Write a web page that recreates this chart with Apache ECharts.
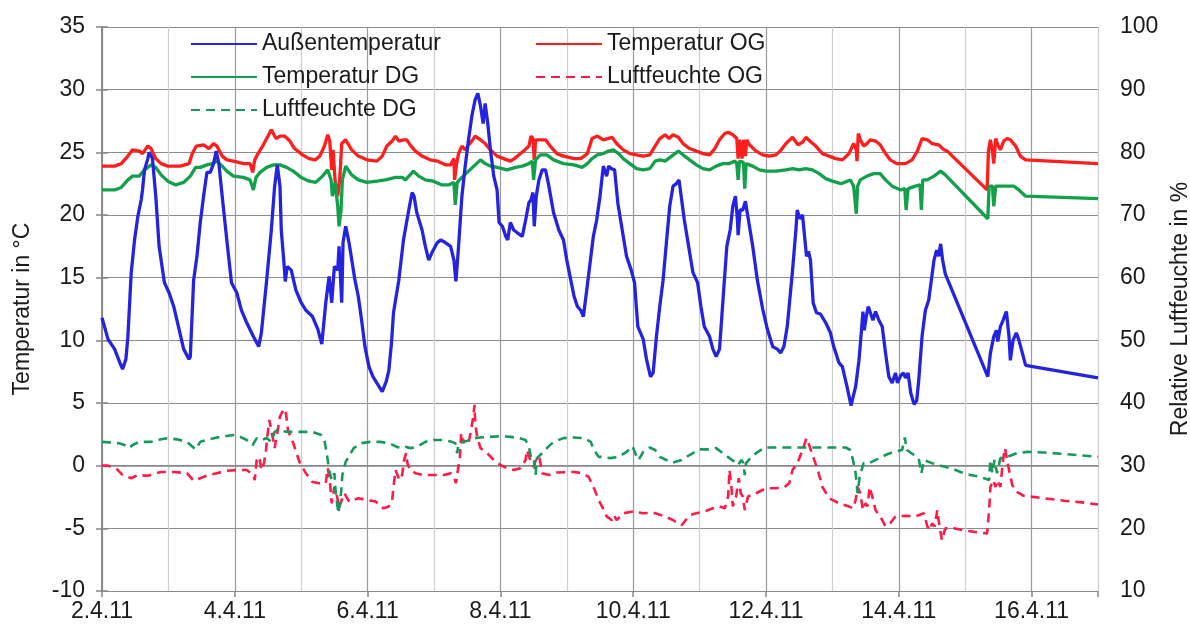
<!DOCTYPE html>
<html>
<head>
<meta charset="utf-8">
<script src="https://cdn.jsdelivr.net/npm/echarts@6/dist/echarts.min.js"></script>
<style>html,body{margin:0;padding:0;background:#fff}#c{width:1190px;height:628px}</style>
</head>
<body>
<div id="c"></div>
<script>
// x values: days after 2.4.11 00:00
const aussenDays = [0,0.09,0.19,0.27,0.31,0.36,0.39,0.44,0.49,0.54,0.59,0.61,0.64,0.69,0.71,0.76,0.81,0.86,0.94,1.01,1.08,1.16,1.23,1.31,1.33,1.38,1.43,1.48,1.53,1.58,1.63,1.68,1.72,1.76,1.81,1.88,1.95,2.03,2.10,2.18,2.28,2.36,2.40,2.48,2.55,2.60,2.64,2.68,2.70,2.74,2.76,2.79,2.85,2.92,3.00,3.07,3.17,3.25,3.31,3.37,3.42,3.46,3.50,3.55,3.57,3.61,3.63,3.67,3.72,3.81,3.86,3.91,3.96,4.02,4.08,4.15,4.22,4.28,4.32,4.36,4.39,4.47,4.54,4.62,4.67,4.70,4.74,4.82,4.87,4.92,4.97,5.05,5.10,5.17,5.25,5.30,5.33,5.37,5.42,5.47,5.52,5.57,5.62,5.66,5.70,5.74,5.77,5.81,5.85,5.90,5.95,5.98,6.03,6.08,6.11,6.15,6.20,6.25,6.33,6.38,6.43,6.46,6.49,6.51,6.54,6.58,6.63,6.68,6.73,6.80,6.88,6.95,7.00,7.06,7.11,7.16,7.21,7.25,7.30,7.40,7.45,7.50,7.55,7.60,7.63,7.67,7.72,7.77,7.85,7.90,7.97,8.02,8.07,8.15,8.20,8.26,8.30,8.35,8.40,8.45,8.50,8.55,8.60,8.65,8.69,8.72,8.77,8.85,8.90,8.97,9.02,9.07,9.15,9.20,9.25,9.30,9.36,9.41,9.46,9.50,9.54,9.57,9.58,9.61,9.65,9.69,9.72,9.80,9.87,9.95,10.02,10.10,10.17,10.22,10.27,10.32,10.40,10.45,10.47,10.51,10.55,10.58,10.61,10.64,10.67,10.71,10.76,10.82,10.90,10.97,11.02,11.10,11.15,11.22,11.28,11.35,11.40,11.43,11.46,11.48,11.51,11.54,11.57,11.61,11.65,11.70,11.75,11.80,11.85,11.90,11.95,11.98,12.03,12.07,12.10,12.14,12.18,12.23,12.27,12.30,12.35,12.40,12.45,12.49,12.53,12.57,12.60,12.63,12.66,12.70,13.34,13.38,13.43,13.47,13.49,13.53,13.57,13.62,13.66,13.68,13.72,13.77,13.81,13.91,15.00];
const aussenTemp = [11.8,10.1,9.3,8.2,7.7,8.5,10.3,15.4,18.0,19.9,21.2,22.0,23.6,24.5,25.0,24.5,21.5,17.5,14.6,13.8,12.7,10.9,9.3,8.5,8.7,14.8,16.7,19.4,21.5,23.4,23.4,24.1,25.1,24.1,21.5,18.0,14.6,13.8,12.4,11.4,10.3,9.5,10.6,14.8,18.8,22.3,24.0,22.3,18.8,16.2,14.7,15.9,15.6,14.0,13.0,12.4,11.9,10.9,9.7,13.0,15.1,13.0,15.9,15.6,17.5,13.0,17.8,19.1,17.8,14.8,13.5,11.6,9.5,7.9,7.1,6.5,5.9,6.7,7.6,9.8,12.2,14.8,18.0,20.4,21.8,21.5,20.2,18.8,17.5,16.4,17.0,17.8,18.0,17.8,17.5,16.4,14.7,17.5,21.5,23.9,26.0,27.9,29.2,29.7,28.7,27.3,28.9,27.3,25.2,23.1,22.0,19.4,19.1,18.3,18.0,19.4,18.8,18.6,18.3,19.6,21.0,21.2,21.8,19.1,21.5,22.8,23.6,23.6,22.3,20.2,18.8,18.0,16.4,14.8,13.5,12.7,12.4,11.9,14.0,18.3,19.6,21.5,23.9,23.1,23.9,23.7,23.6,20.9,18.3,16.7,15.6,14.6,11.1,10.1,8.5,7.1,7.4,10.3,12.7,14.8,17.8,20.7,22.3,22.5,22.8,22.9,19.6,17.0,15.4,14.6,12.7,11.1,10.3,9.3,8.7,9.3,13.8,17.5,18.8,20.7,21.5,19.6,18.4,20.4,20.4,21.1,20.1,17.5,14.8,12.5,10.9,9.5,9.3,9.0,9.5,11.1,15.6,18.8,20.4,19.7,20.0,20.0,16.7,17.1,16.4,13.0,12.2,12.1,11.4,10.6,9.5,8.2,7.9,6.3,4.8,6.3,8.4,10.3,12.3,10.8,11.9,12.7,12.8,11.6,12.3,11.6,11.1,9.0,7.1,6.6,7.4,6.6,7.2,7.4,7.0,7.4,5.8,4.9,5.2,6.8,10.3,12.4,13.2,14.8,16.4,17.2,16.7,17.7,16.4,15.3,7.1,9.0,10.3,10.8,9.9,11.1,11.6,12.3,10.3,8.4,10.0,10.6,10.0,8.0,7.0];

const ogDays = [0,0.19,0.29,0.39,0.46,0.56,0.61,0.69,0.74,0.81,0.89,0.99,1.18,1.31,1.36,1.42,1.53,1.61,1.68,1.73,1.81,1.88,1.98,2.13,2.23,2.27,2.30,2.35,2.43,2.50,2.55,2.62,2.68,2.75,2.83,2.90,3.02,3.12,3.21,3.28,3.35,3.40,3.43,3.46,3.48,3.51,3.55,3.58,3.61,3.67,3.76,3.86,3.99,4.14,4.22,4.29,4.37,4.42,4.47,4.54,4.59,4.64,4.72,4.82,4.94,5.05,5.17,5.25,5.30,5.31,5.34,5.37,5.42,5.47,5.52,5.57,5.62,5.70,5.77,5.85,5.95,6.05,6.15,6.21,6.28,6.35,6.43,6.46,6.49,6.51,6.53,6.60,6.68,6.75,6.85,6.95,7.11,7.21,7.31,7.38,7.46,7.55,7.68,7.75,7.85,7.95,8.05,8.15,8.25,8.33,8.40,8.48,8.54,8.60,8.68,8.75,8.85,8.95,9.05,9.15,9.23,9.30,9.38,9.43,9.50,9.56,9.58,9.60,9.64,9.66,9.69,9.71,9.75,9.85,9.95,10.05,10.15,10.23,10.30,10.40,10.48,10.55,10.60,10.68,10.75,10.85,10.95,11.05,11.15,11.25,11.32,11.36,11.37,11.39,11.42,11.47,11.52,11.57,11.65,11.72,11.80,11.87,11.97,12.10,12.20,12.28,12.35,12.43,12.50,12.60,12.68,12.73,13.33,13.35,13.38,13.41,13.43,13.46,13.49,13.53,13.58,13.63,13.68,13.76,13.83,13.91,15.00];
const ogTemp = [23.9,23.9,24.1,24.7,25.2,25.1,24.9,25.5,25.3,24.5,24.1,23.9,23.9,24.1,24.9,25.5,25.6,25.3,25.7,25.5,24.7,24.4,24.3,24.1,24.1,23.4,24.4,24.9,25.6,26.3,26.8,26.1,26.3,26.3,25.9,25.3,24.8,24.5,24.4,24.7,25.5,26.4,25.9,23.6,25.2,22.8,21.5,22.8,25.7,26.0,25.2,24.7,24.4,24.3,24.7,25.5,25.9,26.3,25.9,26.0,26.0,25.6,25.1,24.7,24.4,24.3,24.0,24.0,24.5,22.8,24.1,24.9,25.5,25.2,25.6,25.9,26.3,26.0,25.7,25.2,24.7,24.5,24.3,24.5,24.8,25.1,25.5,26.3,26.1,24.4,26.0,26.0,26.0,25.5,24.9,24.7,24.5,24.5,24.9,26.1,26.3,26.0,26.2,25.7,25.2,24.9,24.8,24.7,24.8,25.5,26.1,26.4,26.1,26.4,26.2,25.7,25.3,25.1,24.9,24.8,25.3,26.0,26.5,26.6,26.4,26.1,24.5,26.0,24.5,26.0,24.7,26.0,25.6,25.1,24.8,24.7,24.8,25.2,25.7,26.2,25.6,25.8,26.2,25.8,25.5,24.9,24.7,24.5,24.4,24.9,25.7,25.2,24.3,26.5,26.0,25.5,25.7,26.0,25.9,25.6,24.9,24.4,24.1,24.1,24.4,25.1,26.1,26.0,25.7,25.6,25.2,25.1,22.0,25.1,26.0,25.1,24.1,26.1,25.6,25.2,25.9,26.1,26.0,25.5,24.7,24.4,24.1];

const dgDays = [0,0.19,0.29,0.39,0.46,0.56,0.64,0.74,0.81,0.89,0.99,1.11,1.23,1.33,1.41,1.48,1.58,1.66,1.73,1.81,1.88,1.98,2.13,2.23,2.28,2.32,2.38,2.48,2.58,2.68,2.78,2.88,3.00,3.12,3.22,3.32,3.40,3.45,3.47,3.51,3.55,3.57,3.60,3.62,3.67,3.76,3.86,3.99,4.14,4.27,4.42,4.52,4.57,4.64,4.69,4.77,4.87,4.99,5.12,5.22,5.30,5.32,5.35,5.42,5.52,5.62,5.70,5.77,5.85,5.95,6.10,6.23,6.33,6.43,6.48,6.50,6.53,6.60,6.70,6.80,6.95,7.11,7.23,7.31,7.38,7.46,7.55,7.63,7.70,7.78,7.85,7.95,8.05,8.15,8.25,8.33,8.40,8.48,8.58,8.68,8.75,8.85,8.95,9.05,9.15,9.25,9.35,9.45,9.53,9.56,9.58,9.60,9.66,9.68,9.70,9.80,9.90,10.00,10.15,10.30,10.40,10.50,10.60,10.70,10.80,10.90,11.00,11.13,11.27,11.32,11.36,11.38,11.42,11.52,11.62,11.72,11.80,11.90,12.03,12.09,12.11,12.14,12.25,12.32,12.34,12.36,12.43,12.53,12.63,12.70,13.34,13.36,13.41,13.43,13.46,13.53,13.73,13.81,13.91,15.00];
const dgTemp = [22.0,22.0,22.2,22.8,23.1,23.1,23.6,24.0,23.8,23.2,22.7,22.4,22.6,23.1,23.8,23.8,24.0,24.1,24.3,23.9,23.5,23.1,23.0,22.8,22.0,23.0,23.4,23.8,24.0,24.0,23.8,23.5,23.0,22.7,22.6,23.1,23.6,22.8,21.5,22.6,20.7,19.1,20.4,22.8,23.9,23.2,22.8,22.6,22.7,22.8,23.0,23.0,22.8,23.2,23.5,23.1,22.8,22.7,22.4,22.4,22.6,20.8,22.6,23.0,23.5,24.0,24.4,24.1,23.9,23.8,23.6,23.8,23.9,24.1,24.3,22.8,24.4,24.8,24.8,24.4,24.1,24.0,23.8,24.1,24.5,24.8,24.9,25.1,25.2,24.9,24.5,24.1,23.7,23.6,23.7,24.3,24.4,24.3,24.7,25.1,24.8,24.4,24.0,23.7,23.6,23.9,24.1,24.1,24.3,24.1,22.8,24.3,24.2,22.1,24.1,23.9,23.6,23.5,23.5,23.6,23.7,23.6,23.7,23.6,23.3,22.9,22.7,22.5,22.8,22.3,20.1,22.3,22.8,23.1,23.3,23.3,22.8,22.3,22.0,22.1,20.4,22.1,22.3,22.4,20.4,22.8,22.8,23.1,23.5,23.2,19.7,22.3,22.3,20.7,22.3,22.3,22.3,22.0,21.5,21.3];

const rhDgDays = [0,0.24,0.34,0.41,0.46,0.56,0.74,0.84,0.99,1.13,1.28,1.41,1.48,1.58,1.73,1.81,1.98,2.08,2.18,2.27,2.33,2.40,2.48,2.55,2.60,2.65,2.78,2.98,3.17,3.30,3.35,3.40,3.42,3.46,3.50,3.52,3.56,3.60,3.62,3.67,3.72,3.79,3.91,4.04,4.19,4.32,4.44,4.52,4.57,4.64,4.74,4.87,4.99,5.15,5.27,5.32,5.35,5.37,5.45,5.55,5.62,5.70,5.85,6.00,6.15,6.28,6.38,6.43,6.46,6.50,6.53,6.55,6.63,6.70,6.80,6.95,7.11,7.26,7.36,7.41,7.48,7.53,7.65,7.78,7.90,7.99,8.03,8.08,8.15,8.25,8.33,8.40,8.50,8.60,8.73,8.85,9.00,9.13,9.25,9.35,9.45,9.53,9.58,9.60,9.63,9.66,9.68,9.70,9.78,9.85,9.98,10.20,10.60,11.00,11.20,11.27,11.31,11.35,11.38,11.41,11.47,11.55,11.67,11.80,11.92,12.05,12.09,12.12,12.23,12.30,12.34,12.38,12.50,12.63,12.78,12.93,13.08,13.23,13.36,13.38,13.41,13.44,13.48,13.53,13.63,13.78,13.93,14.19,14.44,14.69,15.00];
const rhDg = [33.8,33.6,33.3,32.8,33.3,33.8,33.8,34.1,34.4,34.2,33.8,32.6,33.8,34.1,34.5,34.6,34.9,34.6,34.1,33.3,34.4,34.1,34.4,33.8,35.4,35.7,35.4,35.4,35.4,34.9,34.1,30.9,29.3,27.7,28.8,25.6,22.4,25.6,28.5,30.6,31.5,32.8,33.6,33.8,33.8,33.6,33.0,32.8,33.0,32.8,33.0,33.8,34.1,34.1,33.8,33.6,32.0,33.6,33.8,34.1,34.4,34.5,34.6,34.7,34.6,34.4,34.1,33.0,31.4,31.4,28.5,31.2,32.0,32.8,33.8,34.4,34.5,34.4,33.8,32.5,31.4,31.4,31.2,31.4,32.2,33.1,32.0,30.9,32.2,32.9,32.5,31.4,30.9,30.5,30.9,31.7,32.6,32.6,32.8,32.0,31.2,30.6,30.1,29.8,30.9,30.4,28.5,30.4,31.4,32.0,32.9,32.9,32.9,32.9,32.9,32.5,30.9,28.8,25.6,28.2,30.4,30.4,31.0,31.7,32.2,32.5,34.5,32.5,31.7,31.2,28.8,30.9,30.4,30.0,29.6,29.0,28.5,28.2,27.7,30.9,28.8,30.9,28.8,31.2,31.4,32.0,32.2,32.1,31.9,31.7,31.4];

const rhOgDays = [0,0.09,0.21,0.31,0.44,0.54,0.69,0.89,1.08,1.28,1.38,1.48,1.58,1.73,1.88,2.03,2.18,2.28,2.30,2.33,2.37,2.40,2.44,2.47,2.49,2.52,2.55,2.60,2.64,2.68,2.74,2.77,2.80,2.88,2.98,3.07,3.17,3.27,3.37,3.40,3.43,3.46,3.50,3.54,3.57,3.61,3.65,3.72,3.86,3.99,4.12,4.19,4.24,4.32,4.37,4.39,4.42,4.45,4.48,4.52,4.55,4.58,4.60,4.64,4.72,4.84,5.15,5.25,5.30,5.33,5.36,5.39,5.41,5.44,5.47,5.52,5.56,5.59,5.61,5.62,5.65,5.70,5.80,5.90,6.00,6.10,6.20,6.30,6.38,6.40,6.45,6.50,6.55,6.59,6.63,6.73,6.85,7.11,7.23,7.33,7.41,7.48,7.56,7.60,7.68,7.71,7.75,7.85,8.00,8.15,8.30,8.48,8.60,8.73,8.85,8.95,9.08,9.20,9.30,9.38,9.43,9.45,9.48,9.50,9.55,9.59,9.62,9.65,9.68,9.73,9.85,10.00,10.15,10.28,10.35,10.40,10.48,10.55,10.61,10.65,10.71,10.78,10.85,10.95,11.10,11.25,11.31,11.35,11.38,11.42,11.46,11.50,11.53,11.56,11.60,11.65,11.72,11.80,11.87,11.95,12.10,12.25,12.38,12.43,12.47,12.50,12.54,12.58,12.61,12.65,12.70,12.83,13.03,13.23,13.33,13.36,13.38,13.42,13.46,13.49,13.53,13.57,13.60,13.63,13.67,13.71,13.76,13.88,14.19,14.49,14.79,15.00];
const rhOg = [30.0,30.0,29.6,28.5,28.0,28.5,28.4,29.0,29.0,28.8,27.6,28.0,28.4,28.8,29.2,29.3,29.3,28.5,27.7,30.9,31.4,29.3,30.4,32.5,34.6,37.3,35.7,32.8,35.2,37.8,39.1,38.4,35.7,33.6,30.4,28.8,27.4,27.2,27.2,29.6,27.7,24.0,26.6,25.1,23.2,24.5,25.6,24.3,24.8,24.5,24.3,23.5,23.2,23.5,24.5,26.6,29.3,28.5,27.7,28.5,30.9,32.0,30.4,29.3,28.8,28.5,28.5,28.8,28.2,27.2,29.3,31.4,35.2,33.6,34.1,33.6,35.7,37.8,39.7,36.8,34.6,32.8,32.0,30.9,30.1,29.6,29.3,29.6,30.9,32.5,30.9,29.8,31.4,31.2,28.8,28.5,28.9,29.0,28.8,28.2,26.4,24.5,22.9,21.9,21.3,22.1,21.3,22.4,22.7,22.4,22.5,21.9,21.3,20.5,22.1,22.4,22.7,23.2,23.5,23.2,25.1,29.3,26.6,23.5,25.1,28.0,25.6,25.1,22.9,25.1,25.6,26.4,26.4,26.6,27.2,29.3,30.6,32.5,34.4,33.3,31.4,29.3,26.6,24.8,24.0,23.5,23.2,24.5,26.6,25.6,22.9,24.0,23.5,26.6,25.1,22.9,21.9,20.3,20.8,21.9,22.0,21.9,22.4,20.3,19.7,20.8,20.3,22.9,20.5,18.1,20.0,20.0,19.6,19.3,19.2,22.9,26.6,27.7,26.6,27.7,26.6,30.9,32.8,30.9,28.8,26.9,25.9,25.2,24.8,24.4,24.1,23.8];

const xTickLabels = ['2.4.11','4.4.11','6.4.11','8.4.11','10.4.11','12.4.11','14.4.11','16.4.11'];

function zip(a, b) { return a.map((x, i) => [x, b[i]]); }

const FONT = '"Liberation Sans", Arial, sans-serif';
const TXT = '#1a1a1a';
const FS = 23;
const chart = echarts.init(document.getElementById('c'), null, {renderer: 'canvas'});

const lineSeries = (name, data, color, yIdx, dashed, z) => ({
  name, type: 'line', data, xAxisIndex: 0, yAxisIndex: yIdx,
  showSymbol: false, symbol: 'none', z: z,
  lineStyle: {color, width: dashed ? 2.6 : 3.3, type: dashed ? [9, 6] : 'solid'},
  itemStyle: {color},
  animation: false
});

const legendCommon = {
  orient: 'vertical', top: 27, itemWidth: 66, itemHeight: 14, itemGap: 9,
  itemStyle: {opacity: 0},
  textStyle: {fontSize: FS, color: TXT, fontFamily: FONT, lineHeight: 24},
  selectedMode: false
};

chart.setOption({
  backgroundColor: '#ffffff',
  animation: false,
  textStyle: {fontFamily: FONT},
  grid: {left: 102, right: 92, top: 27, bottom: 37, containLabel: false, outerBoundsMode: 'none'},
  legend: [
    Object.assign({data: ['Außentemperatur', 'Temperatur DG', 'Luftfeuchte DG'], left: 185}, legendCommon),
    Object.assign({data: ['Temperatur OG', 'Luftfeuchte OG'], left: 530}, legendCommon)
  ],
  xAxis: [
    {
      type: 'value', min: 0, max: 15, interval: 1, position: 'bottom',
      axisLine: {show: true, lineStyle: {color: '#868686', width: 1.5}},
      axisTick: {show: false}, axisLabel: {show: false},
      splitLine: {show: true, lineStyle: {color: ['#9a9a9a', '#cdcdcd'], width: 1.2}}
    },
    {
      type: 'value', min: 0, max: 15, interval: 2, position: 'bottom',
      axisLine: {show: false},
      axisTick: {show: true, length: 6, lineStyle: {color: '#868686', width: 1.5}},
      axisLabel: {
        fontSize: FS, color: TXT, fontFamily: FONT, margin: 9,
        formatter: v => (v % 2 === 0 && v / 2 < xTickLabels.length) ? xTickLabels[v / 2] : ''
      },
      splitLine: {show: false}
    }
  ],
  yAxis: [
    {
      type: 'value', min: -10, max: 35, interval: 5, position: 'left',
      name: 'Temperatur in °C', nameLocation: 'middle', nameGap: 68,
      nameTextStyle: {fontSize: FS, color: TXT, fontFamily: FONT},
      axisLine: {show: true, lineStyle: {color: '#868686', width: 1.5}},
      axisTick: {show: true, length: 6, lineStyle: {color: '#868686', width: 1.5}},
      axisLabel: {fontSize: FS, color: TXT, fontFamily: FONT, margin: 17},
      splitLine: {show: true, lineStyle: {color: '#8c8c8c', width: 1.2}}
    },
    {
      type: 'value', min: 10, max: 100, interval: 10, position: 'right',
      name: 'Relative Luftfeuchte in %', nameLocation: 'middle', nameGap: 69,
      nameTextStyle: {fontSize: FS, color: TXT, fontFamily: FONT},
      axisLine: {show: true, lineStyle: {color: '#868686', width: 1.5}},
      axisTick: {show: true, length: 6, lineStyle: {color: '#868686', width: 1.5}},
      axisLabel: {fontSize: FS, color: TXT, fontFamily: FONT, margin: 22},
      splitLine: {show: false}
    }
  ],
  series: [
    lineSeries('Außentemperatur', zip(aussenDays, aussenTemp), '#2424e0', 0, false, 5),
    lineSeries('Temperatur OG', zip(ogDays, ogTemp), '#ff1e1e', 0, false, 4),
    lineSeries('Temperatur DG', zip(dgDays, dgTemp), '#12a04a', 0, false, 4),
    lineSeries('Luftfeuchte OG', zip(rhOgDays, rhOg), '#ff1a48', 1, true, 3),
    lineSeries('Luftfeuchte DG', zip(rhDgDays, rhDg), '#16995a', 1, true, 3)
  ]
});
</script>
</body>
</html>
